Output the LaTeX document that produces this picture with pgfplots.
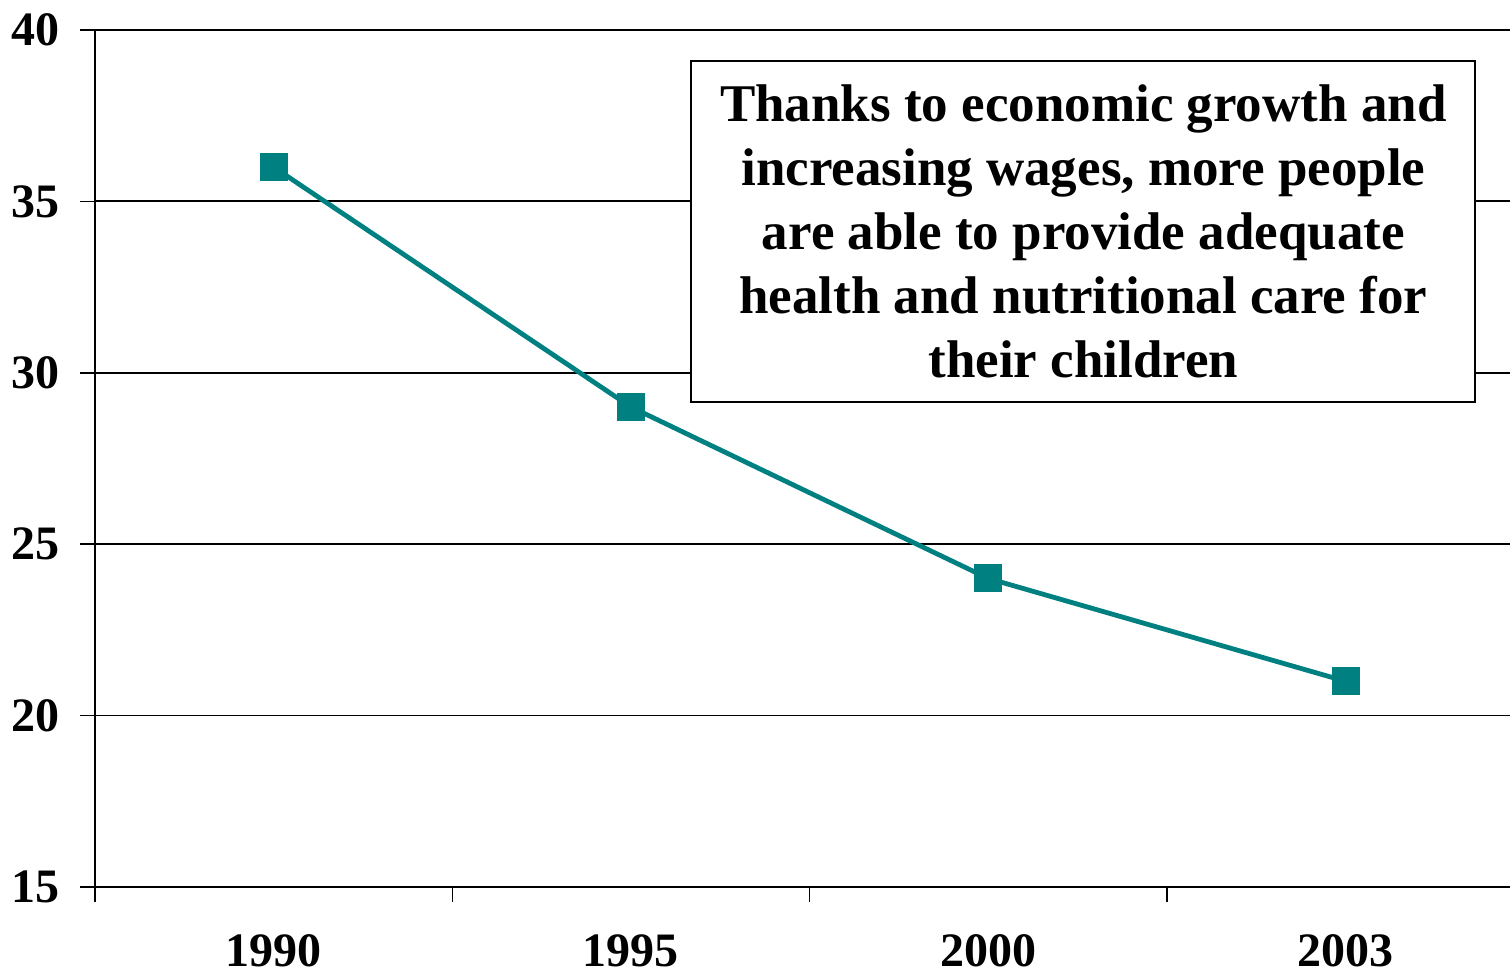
\documentclass[border=0pt]{standalone}
\usepackage{fontspec}
\setmainfont{Liberation Serif}
\usepackage{pgfplots}
\pgfplotsset{compat=1.18}
\definecolor{tealline}{HTML}{008080}
\begin{document}
\begin{tikzpicture}
\begin{axis}[
  scale only axis,
  width=707.5pt, height=428.5pt,
  xmin=-0.5, xmax=3.46,
  ymin=15, ymax=40,
  axis x line=bottom, axis y line=left,
  axis line style={-, line width=1pt},
  xtick={0,1,2,3},
  xticklabels={1990,1995,2000,2003},
  major x tick style={draw=none},
  minor xtick={-0.5,0.5,1.5,2.5},
  minor tick length=7.5pt,
  ytick={15,20,...,40},
  major tick length=7.5pt,
  tick align=outside,
  tick style={black, line width=0.8pt},
  ymajorgrids,
  grid style={black, line width=0.9pt},
  /pgf/number format/assume math mode=true,
  ticklabel style={font=\fontsize{24}{28}\selectfont\bfseries},
  yticklabel style={/pgf/number format/1000 sep={}, xshift=-6.5pt},
  xticklabel style={yshift=-13pt},
  clip=false,
]
\addplot[tealline, line width=2.4pt, mark=square*, mark size=6.5pt,
  mark options={fill=tealline, draw=tealline, line width=1pt}]
  coordinates {(0,36) (1,29) (2,24) (3,21)};
\node[draw=black, line width=1pt, fill=white, align=center,
  minimum width=392pt, minimum height=170.5pt, inner sep=0pt,
  font=\fontsize{26.5}{32}\selectfont\bfseries]
  at (axis cs:2.266,34.12)
  {Thanks to economic growth and\\
   increasing wages, more people\\
   are able to provide adequate\\
   health and nutritional care for\\
   their children};
\end{axis}
\pgfresetboundingbox
\path[use as bounding box]
  ([xshift=-47.5pt,yshift=-43pt]current axis.south west)
  rectangle ([yshift=15pt]current axis.north east);
\end{tikzpicture}
\end{document}
